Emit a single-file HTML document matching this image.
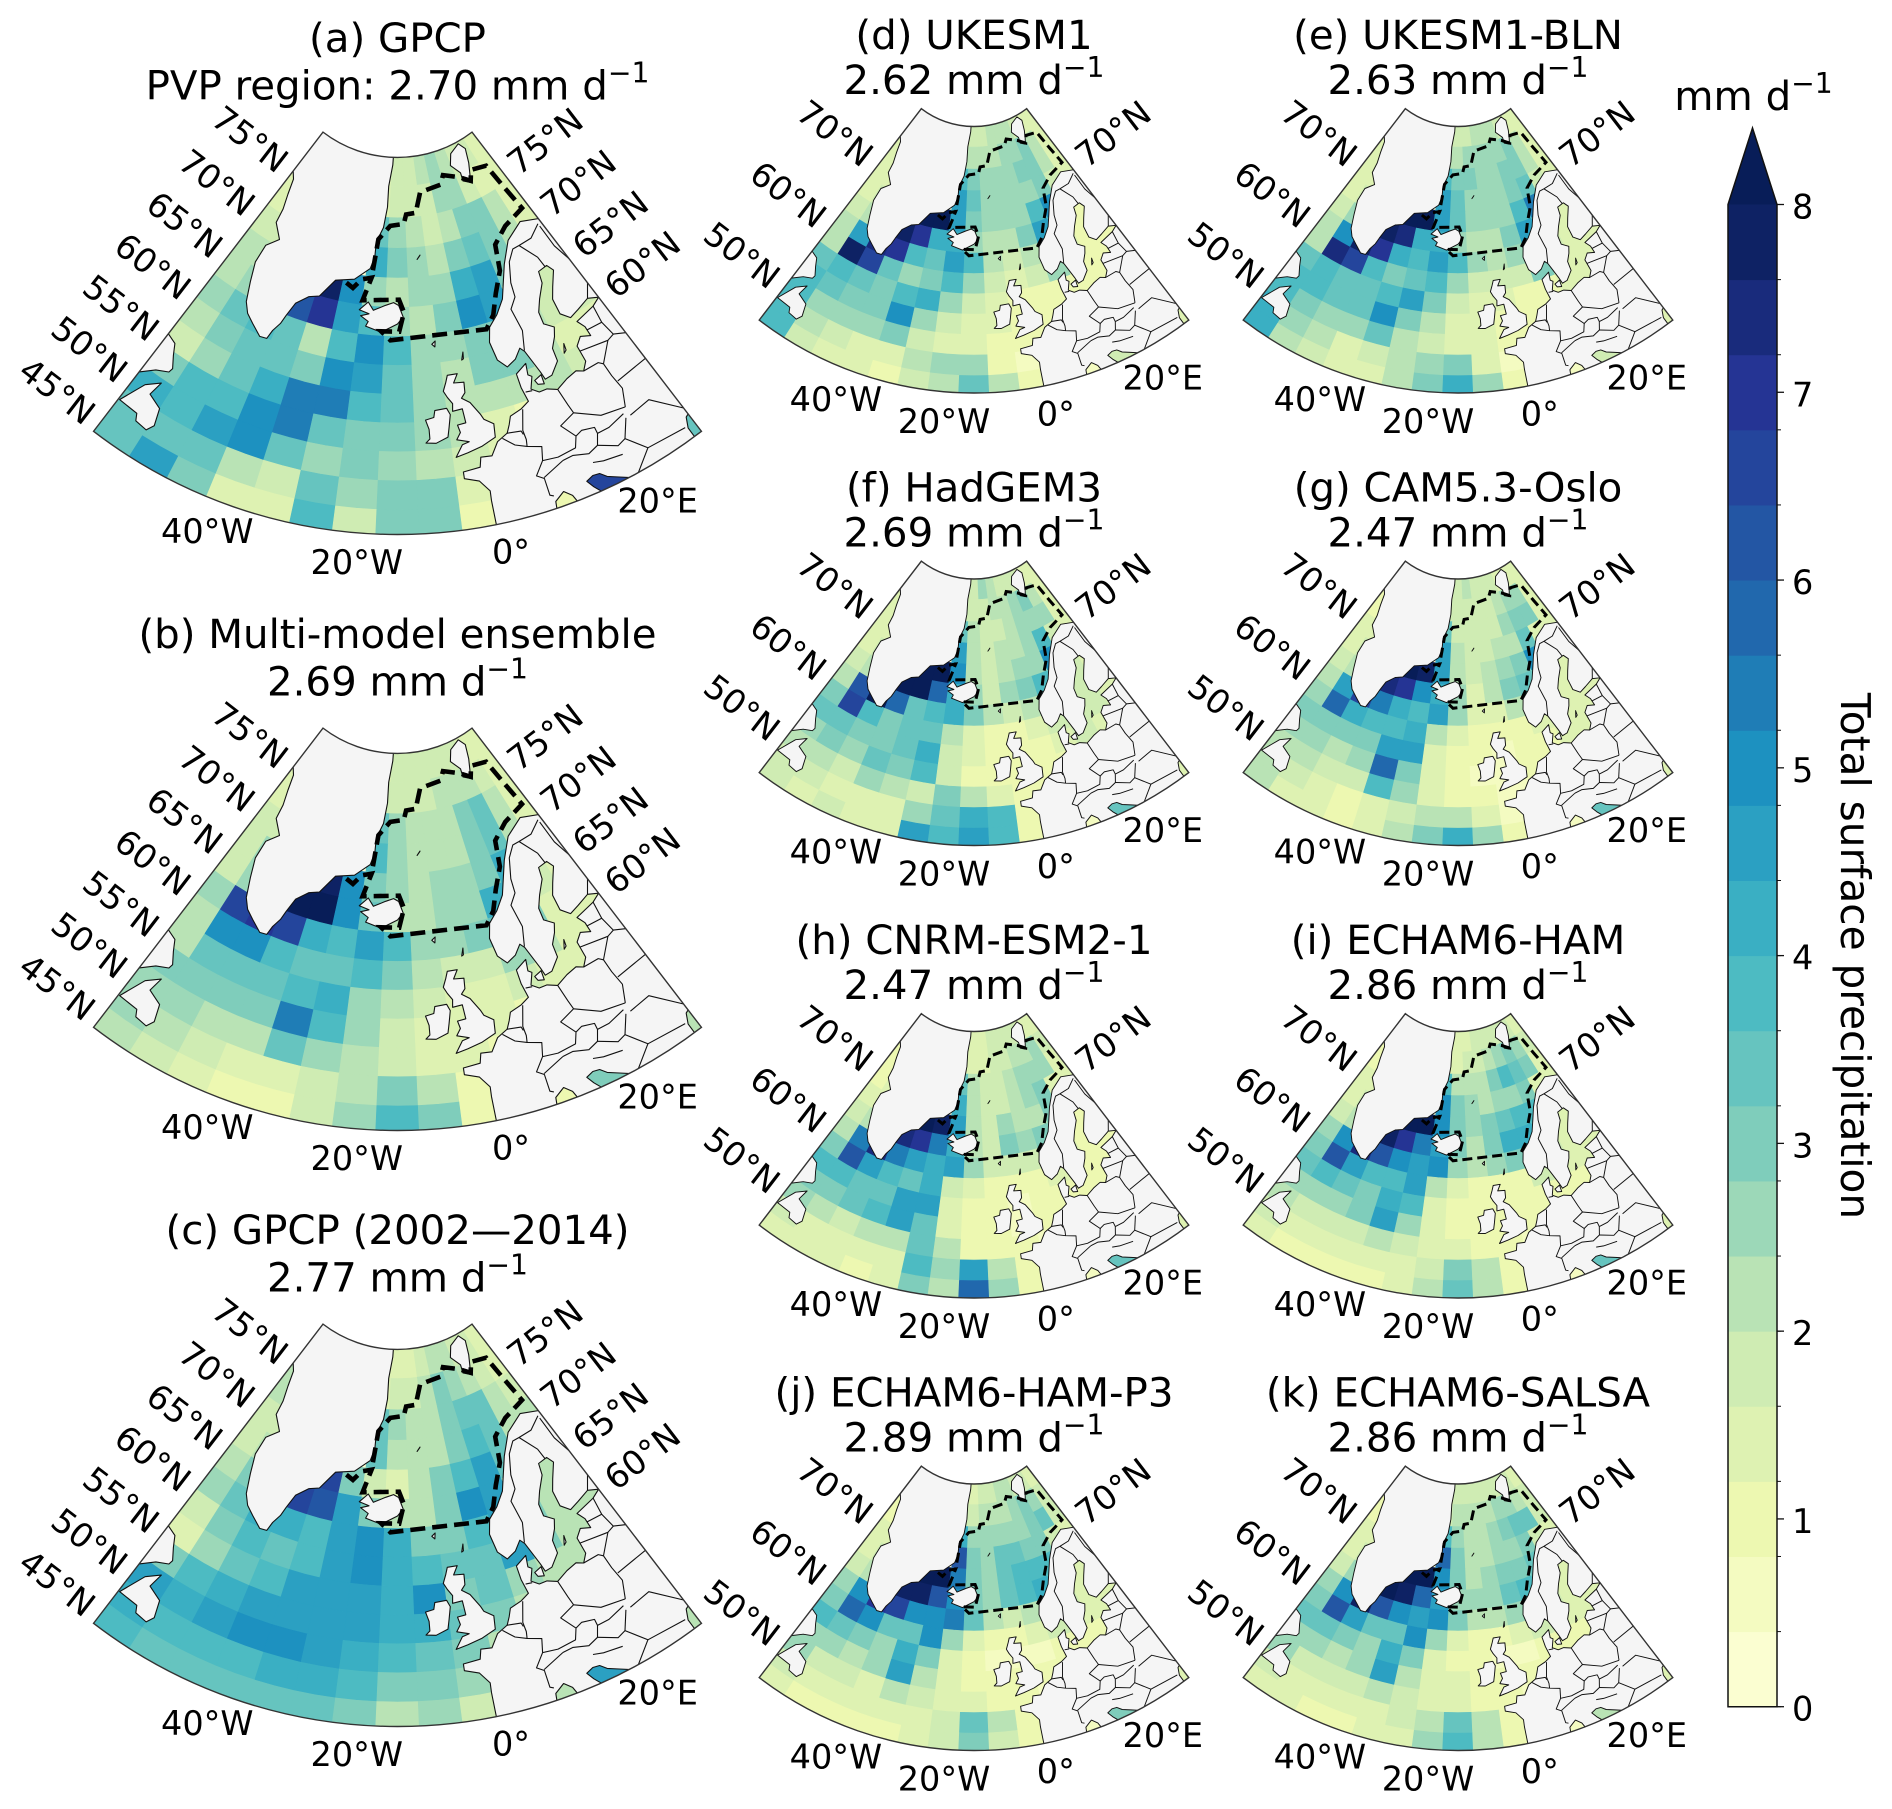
<!DOCTYPE html>
<html lang="en">
<head>
<meta charset="utf-8">
<title>Total surface precipitation maps</title>
<style>
html,body{margin:0;padding:0;background:#fff}
svg{display:block}
text{font-family:"DejaVu Sans","Liberation Sans",sans-serif;fill:#000}
</style>
</head>
<body>
<svg id="figure" xmlns="http://www.w3.org/2000/svg" width="1892" height="1809" viewBox="0 0 1892 1809"></svg>
<script>
const panelTitles=['(a) GPCP','(b) Multi-model ensemble','(c) GPCP (2002—2014)','(d) UKESM1','(e) UKESM1-BLN','(f) HadGEM3','(g) CAM5.3-Oslo','(h) CNRM-ESM2-1','(i) ECHAM6-HAM','(j) ECHAM6-HAM-P3','(k) ECHAM6-SALSA'];
const panelMeans=['PVP region: 2.70','2.69','2.77','2.62','2.63','2.69','2.47','2.47','2.86','2.89','2.86'];
const gridLatEdges=[81,78,75,72,69,66,63,60,57,54,51,48,45,42];
const gridLonEdges=[-60,-54,-48,-42,-36,-30,-24,-18,-12,-6,0,6,12,18,24,30];
const latTicksBigLeft=[75,70,65,60,55,50,45];
const latTicksBigRight=[75,70,65,60];
const latTicksSmallLeft=[70,60,50];
const latTicksSmallRight=[70];
const lonTicks=[-40,-20,0,20];
const colorbarTicks=[0,1,2,3,4,5,6,7,8];
const colorAnchors=['#ffffd9','#edf8b1','#c7e9b4','#7fcdbb','#41b6c4','#1d91c0','#225ea8','#253494','#081d58'];

const valuesA=[
[0,0,0,0,0,0,1.2,1.6,1.8,2,2.4,2.2,1.8,1.6,1.4],
[1.4,0,0,0,0,0,1.4,1.6,1.6,1.6,2.4,2.4,1.6,1.4,1.4],
[1.4,1.4,0,0,0,0,3.4,2.6,2.2,1.8,2.2,3,3,2.2,1.4],
[1.6,1.6,0,0,0,0,4,3,2.4,2,2.8,3.2,3,2,1.4],
[2,2,0,0,7.6,4.8,2.6,2,2.4,2.4,4,4.4,3,1.6,1.6],
[2,2.4,0,6,7,4.4,3.6,2.4,2.2,3,4.8,4.4,2,1.6,1.6],
[2.4,3.4,3.6,3.2,2.2,3.6,5,3.6,2.4,2.6,3,3,2,1.6,1.6],
[2.2,2.8,3.2,3.2,3,5,4.6,3.4,2.4,2,2.8,3,2,1.4,1.4],
[1.8,2.6,3.2,4,5.2,5.2,3.8,3.2,2.6,2,2,2,2,1.6,1.6],
[3,3.6,3.8,5,5.2,3.4,3,2.8,2.4,2,1.4,1,1,1,1],
[4.2,3.8,4.4,5,3.4,2.6,3,2.6,2,1.6,1.2,1,1,1,1],
[3.4,3.4,3.2,2,1.8,3.2,2.4,3,2.8,1.4,1,1,1,1,1],
[3.4,4.4,3,1.5,1.4,3.6,1.8,2.8,3,1,1,1,6.5,1,3.2]];
const valuesB=[
[0,0,0,0,0,0,1.4,1.6,1.6,1.6,1.8,1.6,1.6,1.4,1.4],
[1.2,0,0,0,0,0,1.6,1.6,1.8,1.8,2,2.2,2,1.8,1.4],
[1.2,1.2,0,0,0,0,3.2,2.4,2,2,2.2,3,3.2,2,1.4],
[1.6,1.6,0,0,0,0,3.8,2.4,2,2,2.2,2.8,3.4,2,1.4],
[1.8,2.4,0,0,7.6,5,3,2.4,2.2,2.4,2.4,2.8,4,1.6,1.4],
[1.6,2.6,5,8,8,5,3.4,2.2,2,2.4,2.6,4.2,4,1.6,1.4],
[2.4,6.5,7,6.4,4,3.6,4.4,3.8,2.6,2.4,2.8,3.2,3,1.4,1.4],
[2.2,5,5,3.6,3.2,3.4,3.6,3,2.2,1.6,1.8,2.6,2,1.2,1.2],
[2.2,3.4,3.4,3.2,3.8,4.2,2.6,2.2,1.8,1.4,1.4,1.6,1.4,1.4,1.4],
[3,3,2.8,3,5.2,3.6,2.6,1.8,1.4,1.2,1.2,1,1,1,1],
[2.4,2.4,2.2,2.2,3.2,2.6,2,1.6,1.4,1.2,1,1,1,1,1],
[2.4,2,1.6,1.4,1.2,1.6,2,3,2,.8,.6,1,1,1,1],
[2,1.6,1.2,1,.8,1.8,2.4,3.6,2.8,.8,.6,1,2.8,1,2]];
const valuesC=[
[0,0,0,0,0,0,1.2,1.2,1.4,1.6,2,2,1.8,1.6,1.4],
[2,0,0,0,0,0,1.4,1.6,1.8,2,2.8,2.6,2,1.6,1.4],
[2,2,0,0,0,0,3.4,2.4,2.2,2.2,3,3.4,3.4,2.2,1.6],
[1.6,1.6,0,0,0,0,3.4,2.2,2,2.2,3,3.8,3.2,2,2],
[1.6,2,0,0,6.5,3,1.8,1.4,2,2.8,3.6,4.4,3.4,2,2],
[2.2,2.8,0,6.5,6.2,4.4,3,2,2,3,5,4.6,2,2,2],
[2.4,3.2,4,4,3.8,4.4,5,4,3,3,3.6,4.4,3,2,2],
[1.6,3,3.6,3.4,3.8,4.6,4.8,4.2,3.6,3.4,3.4,4.6,3,2,2],
[1.4,2.4,3.4,3.8,4.4,4.6,4.6,4.2,5,3,3.4,2.6,2,2,2],
[3,3.6,4.2,4.6,4.6,4.6,4.4,4.2,4,3.4,2.8,2,2,2,2],
[4.4,4,4.4,4.8,4.8,4.6,4.2,3.6,3.4,3,2,2,2,2,2],
[4.2,3.8,3.6,3.8,4.2,4,3.8,3,2.8,2.4,2,2,2,2,2],
[3.6,3.4,3.4,3.4,3.4,3.2,2.8,2.2,2.4,1.8,2,2,4.6,2,2.2]];
const valuesD=[
[0,0,0,0,0,0,1.4,1.6,1.8,2,2,2,1.6,1.4,1.4],
[1.2,0,0,0,0,0,2,2.2,2.2,2.2,2.4,2.6,2.8,2.2,1.4],
[1.2,1.2,0,0,0,0,3.6,3,2.6,2.4,2.4,2.8,3,2,1.4],
[1.2,1.4,0,0,0,0,4.6,3.2,2.6,2.6,2.4,2.4,3,1.6,1.2],
[1.4,1.6,0,0,8,8,4.4,3,2.4,2.4,2.4,3.6,5,1,1],
[1.6,2.2,0,7.6,7,4,4,2.4,2.2,2.2,2.8,4.4,3,1,1],
[2,4.6,7.4,7,3.6,3.4,4.4,3.6,2.2,1.8,2.2,3.8,1.4,1,1],
[2.2,7.6,6.6,3.2,2.4,2.8,3.6,2.4,1.6,1.4,1.8,2.6,1,1,1],
[3.4,3.8,3.2,3,3.8,4.2,2.6,1.6,1.2,1,.8,.8,1,1,1],
[3.6,3.4,2.8,3,4.8,2.6,1.8,1.4,1.2,1,.8,.8,.8,1,1],
[3.6,2.6,2.4,2.4,3,1.8,1.4,1.2,1,.8,.8,.8,.8,.8,.8],
[3.8,2.2,1.6,1.2,1.4,2,2.4,2.4,1,.6,.6,.6,.6,.6,.6],
[3.6,1.8,1.4,1.2,1,1.8,2.2,3.2,2.2,.8,.6,.6,1.6,.6,1.2]];
const valuesE=[
[0,0,0,0,0,0,1.4,1.6,1.8,2,2,2,1.6,1.4,1.4],
[1.2,0,0,0,0,0,2,2.2,2.4,2.4,2.4,2.6,2.8,2.2,1.4],
[1.2,1.2,0,0,0,0,3.6,3,2.8,2.4,2.6,2.8,3,2,1.4],
[1.2,1.4,0,0,0,0,4.6,3.4,2.6,2.4,2.4,2.8,3.2,1.6,1.2],
[1.4,1.6,0,0,8,8,4.6,3.2,2.4,2.4,2.4,3.8,5.4,1.2,1],
[1.6,2.4,0,7.8,7.4,4.2,4.2,2.6,2.2,2.2,2.8,4.6,3,1.4,1.2],
[2,4.8,7.6,7,4,3.6,4.4,3.8,2.4,2,2.4,3.8,1.6,1.4,1.2],
[2.2,7.4,6.4,3.6,3,3.2,3.8,2.6,1.8,1.6,1.8,2.8,1.4,1.2,1.2],
[3.4,3.8,3.4,3.4,3.8,4.4,2.8,1.8,1.4,1.2,1,1,1.2,1.2,1.2],
[3.6,3.6,3.2,3.4,5,3,2,1.4,1.2,1,1,1,1,1,1],
[3.8,3,2.6,2.6,3.4,2,1.6,1.4,1.2,.8,.8,.8,.8,.8,.8],
[4,2.6,2,1.4,1.6,2.2,2.6,2.8,1.2,.6,.6,.6,.6,.6,.6],
[4.2,2.2,1.6,1.2,1.2,2,2.8,4,2.4,.8,.6,.6,1.6,.6,1.2]];
const valuesF=[
[0,0,0,0,0,0,1.4,1.8,2.4,2,1.8,1.8,1.6,1.4,1.4],
[1.2,0,0,0,0,0,1.6,1.8,1.8,2,2.2,2.4,2.8,2.2,1.4],
[1.2,1.2,0,0,0,0,3.4,2,1.8,1.8,2,2.4,2.6,2.4,1.4],
[1.2,1.4,0,0,0,0,4.6,2.2,1.8,2,2.2,2.4,3.6,1.6,1.2],
[1.4,1.6,0,0,8,8,5,2,1.6,2,2.4,2.6,5,1.2,1.2],
[1.6,2.2,0,8,8,5.6,4,2.4,1.6,2.4,3,3.6,3,1.8,1.4],
[2,6,8,5.8,3.2,3.6,4,3,2,1.8,2,2.6,1.8,1.8,1.4],
[3,6.6,3.6,3,3.2,3.4,2.2,1.4,1,1,1.2,1.8,1.8,1.8,1.4],
[3.4,3.4,2.8,2.8,3.2,4,1.8,1.4,1,.8,1,1.4,1.6,1.4,1.4],
[2.6,2.8,2.6,3.2,3,3.6,1.6,1,1,.8,.8,1,1,1,1],
[2.2,2,1.8,2.4,2,1.8,2.8,2.2,1.2,.8,.8,.8,.8,.8,.8],
[1.8,1.6,1.4,1.4,1.4,2.4,3.2,4,3.6,.8,.6,.6,.6,.6,.6],
[1.6,1.4,1.6,1.4,1.4,4.6,3.6,4.4,3.6,1,.6,.6,3.2,.6,1.2]];
const valuesG=[
[0,0,0,0,0,0,1.4,1.6,2.2,1.8,1.6,1.6,1.4,1.4,1.4],
[1,0,0,0,0,0,1.6,1.6,1.6,1.6,1.8,2,2.6,2.4,1.4],
[1,1,0,0,0,0,3.2,1.8,1.6,1.6,1.8,2.4,3,3,1.2],
[1.2,1.2,0,0,0,0,4.6,2.2,1.8,1.8,2,2.2,3.2,1.4,1.2],
[1.4,1.6,0,0,8,7.6,4.4,2,1.6,2,2.4,2.8,5,1.2,1],
[1.6,2,0,7.4,7,5,4,2.4,1.4,2,3,3.4,3,1.4,1.2],
[2,4.4,6.6,5.4,4,3.8,4.4,2.6,1.4,1.4,2,3,1.4,1.4,1.2],
[2.6,5.6,4,3.6,3.8,4.2,2,1.2,.8,.8,1,1.4,1.2,1.4,1.2],
[3,3,3,3,4.4,4.4,1.4,1,.8,.6,.8,1,1.2,1.2,1.2],
[2.4,2.4,2.2,2.6,5.8,3,1.2,.8,.6,.6,.8,.8,1,1,1],
[2.2,2,1.8,1.8,3.6,2.6,1.2,1,.8,.6,.6,.8,.8,.8,.8],
[2.2,1.6,1.2,1,1.2,1.6,2,2.2,1.2,.6,.6,.6,.6,.6,.6],
[2.2,1.4,1.2,1,1.2,2.2,3,4.2,2.6,.8,.6,.6,3.4,.6,1.2]];
const valuesH=[
[0,0,0,0,0,0,1.2,1.2,1.4,1.6,1.8,1.8,1.6,1.4,1.4],
[1,0,0,0,0,0,1.4,1.4,1.4,1.6,1.8,2,2.2,2.4,1.6],
[1,1,0,0,0,0,3.2,2,1.8,1.8,2.2,2.4,2.4,2.6,1.2],
[1,1.2,0,0,0,0,4,2,1.8,1.8,2,2.4,3,1.4,1.2],
[1.2,1.4,0,0,8,7.6,4.6,2,1.8,2.6,2,2.2,3,1,1],
[1.6,2,0,7.4,7,5.4,4,2,1.6,2.8,2.6,2.8,2.6,1,1],
[2.2,5.2,7.2,5.4,4.4,4,4.6,2.6,1.8,1.6,1.8,2.4,1.2,1,1],
[3,6,4.4,3.6,3.4,4.2,1.8,1.2,.8,.8,1,1.4,1,1,1],
[3.6,3.6,3.2,3.2,4.4,4.4,1.2,1,.8,.6,.8,.8,1,1,1],
[3,3,3.2,3.8,4.4,3.4,1.2,1,.8,.6,.8,.8,.8,.8,.8],
[2.4,2,1.8,2.2,2,3.4,2,1,.8,.8,.6,.8,.8,.8,.8],
[1.6,1.4,1.2,1.2,1.2,3.6,2.6,4.4,2.2,.8,.6,.6,.6,.6,.6],
[1.2,1.2,1.2,1,1.2,3,2.2,5.6,2.6,.8,.6,.6,3.4,.6,1.2]];
const valuesI=[
[0,0,0,0,0,0,1.2,1.2,1.4,1.6,1.8,1.8,1.8,1.6,1.4],
[1,0,0,0,0,0,1.4,1.4,1.6,1.8,2,2.4,2.8,2.4,1.6],
[1,1,0,0,0,0,3.6,2.2,2,2,3,3.6,3.2,3,1.2],
[1.2,1.2,0,0,0,0,5,2.8,2.4,2.2,2.6,2.4,3,1.4,1.2],
[1.4,1.6,0,0,8,8,4.8,3,2.4,3,3.4,3.6,3.8,1.2,1],
[1.8,2.2,0,7.6,7,5.4,4.6,2.8,2,3,4,4.2,3,1.4,1.2],
[2.4,5,7.4,6,4.8,4.4,5,2.6,2,2.4,3,4.2,1.6,1.4,1.2],
[3,6,4.6,3.6,3.6,4.6,2.2,1.4,1,1,1,1.6,1.2,1.2,1.2],
[3.4,3.6,3.2,3,4,3.8,1.4,1,.8,.8,.8,1,1,1,1],
[2.6,2.6,2.4,3,4.4,2.6,1.2,1,.8,.8,.8,.8,.8,.8,.8],
[2.2,1.8,1.6,1.6,2.2,1.6,1.2,1.2,.8,.8,.6,.8,.8,.8,.8],
[1.6,1.2,1.2,1.2,1.2,1.4,1.6,2.8,2,.8,.6,.6,.6,.6,.6],
[1.2,1,1,1,1,1.2,2,3.4,2.2,1,.6,.6,3.2,.6,1.2]];
const valuesJ=[
[0,0,0,0,0,0,1.4,1.4,1.6,1.8,2,2,1.8,1.6,1.4],
[1,0,0,0,0,0,1.6,1.8,2,2,2.2,2.4,2.8,2.4,1.8],
[1,1,0,0,0,0,4,2.6,2.4,2.4,2.4,2.6,3,3.4,1.6],
[1.2,1.2,0,0,0,0,6,3,2.6,3.4,3.2,2.8,3,1.6,1.2],
[1.4,1.6,0,0,8,8,5.2,3,2.6,3.2,3.6,3.8,3.6,1.2,1],
[1.8,2.2,0,7.6,7.6,6,5,3,2.6,3.4,3.8,4,3,1.4,1.2],
[2.4,4.8,7,6.4,5,4.8,5.2,3.2,2,1.8,2.2,3.6,1.6,1.4,1.2],
[2.8,5.6,4.8,3.2,3.4,4.8,2.4,1.4,.8,.8,1.2,1.6,1.2,1.2,1.2],
[3.6,3.2,2.8,2.6,4,2.8,1.2,.8,.6,.6,.6,.8,1,1,1],
[2.6,2.6,2,2.6,4.4,2,1.2,1,.8,.8,.8,.8,.8,.8,.8],
[2.4,1.8,1.6,1.4,2,1.6,1.2,1.2,1,.8,.6,.8,.8,.8,.8],
[1.6,1.4,1.2,1.2,1.2,1.4,1.8,3.2,2,.8,.6,.6,.6,.6,.6],
[1.2,1,1,1,1,1.2,1.8,3,1.6,1,.6,.6,3,.6,1.2]];
const valuesK=[
[0,0,0,0,0,0,1.4,1.6,1.6,1.8,1.8,1.8,1.8,1.6,1.4],
[1,0,0,0,0,0,1.8,2,2,2,2.2,2.4,2.6,2.2,1.6],
[1,1,0,0,0,0,3.6,2.4,2.2,2.2,2.4,2.8,3.2,3.2,1.6],
[1.2,1.2,0,0,0,0,5.6,2.8,2.2,2.2,2.4,2.4,2.8,1.6,1.2],
[1.4,1.6,0,0,8,8,4.8,3,2.2,2.4,3,3,3.2,1.2,1],
[1.8,2.4,0,8,7.6,5.6,4.6,2.6,2.4,2.6,3.4,3.8,3,1.4,1.2],
[2.4,5,7.6,6,5,4.6,5,3,2,2,2.6,3.6,1.6,1.4,1.2],
[2.8,6,4.6,3.4,3.4,4.8,2.4,1.4,1,1,1.2,1.8,1.2,1.2,1.2],
[3.4,3.4,2.8,2.6,4.2,3,1.2,1,.8,.6,.6,.8,1,1,1],
[2.6,2.6,2.2,2.6,4.4,2.2,1.4,1.2,.8,.8,.8,.8,.8,.8,.8],
[2.4,1.8,1.6,1.6,2.2,1.8,1.4,1.2,1,.8,.6,.8,.8,.8,.8],
[1.6,1.4,1.2,1.2,1.4,1.6,2,3.4,2.2,.8,.6,.6,.6,.6,.6],
[1.4,1.2,1,1,1.2,1.4,2.4,3.6,2,1,.6,.6,2.2,.6,1.2]];
const panelValues=[valuesA,valuesB,valuesC,valuesD,valuesE,valuesF,valuesG,valuesH,valuesI,valuesJ,valuesK];

/* geography as lon,lat */
const greenland=[[-62,76.6],[-60,76.1],[-58,75.5],[-56.5,74],[-55,72.5],[-54.5,71],[-51,69.7],[-53.5,68.5],[-53.5,66.5],[-52,64.5],[-50.5,62.5],[-49,61.5],[-47,60.8],[-44.5,59.9],[-43,60],[-42.5,61],[-41.5,62],[-41,63],[-40,64.5],[-37.5,65.6],[-35,66],[-32,68],[-27,68.5],[-23,69.8],[-22,71],[-22,72.5],[-20,74],[-19,76],[-19,78],[-17.5,80],[-17,82],[-62,82]];
const iceland=[[-24.5,65.5],[-22.5,66.4],[-21,65.6],[-18,66.2],[-16,66.5],[-14.7,66.2],[-13.6,65],[-15,64.3],[-18.8,63.4],[-22.5,63.9],[-22,64.4],[-24,64.9],[-22,65.2]];
const svalbard=[[14,77.2],[14.5,78],[11.5,79],[14,80],[20,80.5],[22,79.8],[20,78.5],[18,77.5],[16.5,76.8]];
const britain=[[-5,58.6],[-3,58.6],[-4,57.7],[-2,57.6],[-2.2,56.5],[-3,56],[-1.6,55.4],[-0.2,54],[0.2,53.4],[1.7,52.7],[1.4,51.3],[-1,50.7],[-3.5,50.3],[-5.5,50],[-4.2,51.2],[-3,51.4],[-5,51.8],[-4.2,52.5],[-4.5,53.3],[-3,53.4],[-3.2,54.9],[-5,54.8],[-4.8,55.6],[-5.6,56.3],[-6.2,57],[-5.5,57.9]];
const ireland=[[-6,55.2],[-8.2,55.1],[-8.5,54.4],[-10,54.2],[-9.5,53.2],[-9.5,52.2],[-10.2,51.8],[-8.5,51.7],[-6.4,52.2],[-6,53.2],[-5.5,54.5]];
const newfoundland=[[-59.8,46.7],[-58,49.5],[-56,50.6],[-56.5,49],[-54,48.3],[-53.3,46.5],[-54,45.7],[-56,45.9],[-56.5,46.6]];
const labrador=[[-60,55.2],[-58,54.8],[-57,53.7],[-55.8,52.5],[-56,52],[-58,51.4],[-60,50.2],[-63,50],[-63,56]];
const zealand=[[11,55.7],[12.5,56],[12.4,55],[11.3,55.2]];
const gotland=[[18.2,57],[19,57.9],[18.8,57.2]];
const janMayen=[[-9,70.8],[-8,71.2],[-8.2,71.1]];
const faroe=[[-7.4,62],[-6.6,62.3],[-6.8,61.7]];
const shetland=[[-1.6,59.9],[-1,60.7],[-1.2,60]];
const eurasia=[[-1.3,41],[-1.3,45],[-1.2,46],[-2.5,47.2],[-4.7,47.7],[-4.7,48.4],[-2,48.6],[-1.6,49.6],[0.2,49.5],[1.6,50.8],[3.5,51.4],[4.2,52.2],[4.8,53],[7,53.4],[8.6,53.9],[8.2,55.5],[8.2,57],[10.6,57.7],[10.2,56.5],[10.8,56.2],[9.8,55],[11,54.4],[12.5,54.4],[14.2,53.9],[16.5,54.5],[18.6,54.8],[19.8,54.4],[21,55.2],[21,57],[22.5,57.7],[24.3,57.2],[24.3,58.3],[23.5,59.2],[28,59.6],[30,60],[28,60.6],[25,60.2],[22.8,59.9],[21.3,60.8],[21.5,62.5],[23,63.6],[25.3,65],[24.5,65.8],[22,65.7],[21.3,64.5],[19,63.2],[17.4,62],[17.2,60.7],[18.9,59.9],[18,59],[16.6,58],[16.4,56.6],[14.3,55.5],[12.9,55.4],[12.6,56.3],[11.3,58.9],[10.6,59.4],[9,58.5],[7,58],[5.5,59],[5,61],[6,62.5],[8.5,63.5],[11,64.8],[13,66.5],[15,68],[19,70],[25,71],[31,70],[40,66],[60,60],[60,40],[31,40],[31,45],[29.5,44.6],[28.8,43.6],[28.8,41],[19.5,41],[19.3,42],[17,43],[15.5,43.6],[14.7,44.2],[13.7,44.3],[12.6,44],[13.2,43.2],[14,42.4],[15.5,41.9],[15.5,41],[11,41],[10,43.2],[9,43.9],[7.5,43.2],[7,41]];
const landShapes=[greenland,iceland,svalbard,britain,ireland,newfoundland,labrador,zealand,gotland,janMayen,faroe,shetland,eurasia];
const borders=[
[[11.3,59],[12.5,61],[12,63.5],[14,64.5],[14.5,66],[16.5,68],[19,69],[21,69],[25,69],[29,69.8]],
[[24,65.8],[23.7,67],[21,69]],
[[28,60.6],[31,62.5],[30,65],[29,67],[29,69.5]],
[[2.5,51],[4.2,50],[6,49.5],[8.2,49],[7.6,47.6],[6,46.3],[7,45.8],[7,44],[7.5,43.8]],
[[3.4,51.4],[5.8,51.2],[6,50.8]],
[[7.2,53.3],[6.1,51.2],[6.2,50.2],[6,49.5]],
[[8.7,54.9],[9.9,54.8]],
[[14.2,53.9],[14.7,52],[15,51]],
[[15,51],[12.2,50.3],[13.8,48.7]],
[[13.8,48.7],[13,47.6],[10,47.4],[7.6,47.6]],
[[15,51],[18.8,49.5],[22.8,49]],
[[22.8,49],[24,50.8],[23.6,52.5],[23.5,54]],
[[23.5,54],[22.8,54.4],[19.8,54.4]],
[[13.8,48.7],[15,49],[17,48.7],[17,48]],
[[17,48],[16.2,46.9],[14.5,46.5],[12.2,47],[10.5,46.9]],
[[7,45.9],[10.5,46.9]],
[[17,48],[19,48],[22,48.5]],
[[22,48],[20.3,46.2]],
[[22.8,48],[26.5,48.3],[30,45.5]],
[[16.2,46.9],[18.9,45.9],[20.3,46.2],[22.5,44.2],[28.5,43.8]],
[[19.3,42.3],[22.5,44.2]],
[[14.5,45.5],[16,45.2],[18.9,44.9]],
[[24,51.7],[32,52]],
[[21,56.4],[26.5,55.8],[28,56]],
[[24.3,57.9],[27.5,57.7]],
[[23.5,54],[26.5,55.8]],
[[28,59.6],[27.5,57.7],[28,56],[31,55],[32,52]]];
const pvpBoundary=[[-29,68],[-27,67.6],[-25,68.6],[-22.3,68.9],[-24,66.5],[-14.6,66.8],[-13.4,65.5],[-14.6,63.5],[-18.8,63.5],[-16.6,62.6],[5.2,62.4],[7.7,63.6],[10,65.6],[13.2,67.6],[15,70.2],[20.3,71.4],[27.9,72],[27,74.7],[26,77.4],[19.3,77.8],[17,76.9],[13,77.7],[6.6,78.4],[4.2,77.6],[-5.2,77.3],[-8,75.4],[-11.7,75.3],[-12.7,74.4],[-17.6,74.2],[-21.4,72.8],[-22.3,68.9]];

const SVG_NS='http://www.w3.org/2000/svg';
const fig=document.getElementById('figure');
const CONE=0.833, LON0=-15, LAT_BOTTOM=42.5, LAT_TOP=80.7, DEG=Math.PI/180;
const FONT_TITLE=40.3, FONT_TICK=33.5;

function rho(lat){
  return Math.pow(Math.tan((45-lat/2)*DEG)/Math.tan((45-LAT_BOTTOM/2)*DEG),CONE);
}
function project(p,lon,lat){
  const t=(lon-LON0)*CONE*DEG, r=p.R*rho(lat);
  return [p.cx+r*Math.sin(t), p.y0+r*Math.cos(t)];
}
function node(tag,parent,attrs){
  const el=document.createElementNS(SVG_NS,tag);
  for(const k in attrs) el.setAttribute(k,attrs[k]);
  parent.appendChild(el);
  return el;
}
function lonLatPath(p,pts,close){
  let d='';
  pts.forEach((q,i)=>{const s=project(p,q[0],q[1]);d+=(i?'L':'M')+s[0].toFixed(1)+' '+s[1].toFixed(1);});
  return d+(close?'Z':'');
}
function hexRgb(h){return [1,3,5].map(i=>parseInt(h.substr(i,2),16));}
function cmap(t){
  const f=Math.min(t,0.99999)*(colorAnchors.length-1), i=Math.floor(f), u=f-i;
  const a=hexRgb(colorAnchors[i]), b=hexRgb(colorAnchors[i+1]);
  return 'rgb('+a.map((c,k)=>Math.round(c+(b[k]-c)*u)).join(',')+')';
}
function colorFor(v){
  if(v>=8) return colorAnchors[8];
  const lev=Math.min(Math.floor(v/0.4+1e-6),19);
  return cmap((lev+0.5)/20);
}
function latLabel(v){return v+'°N';}
function lonLabel(v){return v===0?'0°':Math.abs(v)+'°'+(v<0?'W':'E');}
function placeTick(g,str,x,y,rot,name){
  const t=node('text',g,{x:x.toFixed(1),y:(y+FONT_TICK*0.36).toFixed(1),'text-anchor':'middle','font-size':FONT_TICK});
  if(rot) t.setAttribute('transform','rotate('+rot+' '+x.toFixed(1)+' '+y.toFixed(1)+')');
  
  
  t.textContent=str;
}
function titleLine(g,cx,y,str,withUnit,name){
  const t=node('text',g,{x:cx,y:y,'text-anchor':'middle','font-size':FONT_TITLE});
  
  
  t.textContent=str;
  if(withUnit){
    const s=node('tspan',t,{'font-size':FONT_TITLE*0.7,dy:-FONT_TITLE*0.42});
    s.textContent='−1';
  }
}
function drawPanel(i,p,leftTicks,rightTicks,titleY1,titleY2,lineW){
  const g=node('g',fig,{});
  
  
  titleLine(g,p.cx,titleY1,panelTitles[i],false,'panel-title');
  titleLine(g,p.cx,titleY2,panelMeans[i]+' mm d',true,'panel-mean-value');

  const rT=p.R*rho(LAT_TOP), A=LON0+45, B=LON0-45;
  const tl=project(p,B,LAT_TOP), tr=project(p,A,LAT_TOP), br=project(p,A,LAT_BOTTOM), bl=project(p,B,LAT_BOTTOM);
  const sector='M'+tl[0]+' '+tl[1]+'A'+rT+' '+rT+' 0 0 0 '+tr[0]+' '+tr[1]+'L'+br[0]+' '+br[1]+'A'+p.R+' '+p.R+' 0 0 1 '+bl[0]+' '+bl[1]+'Z';
  const clip=node('clipPath',g,{id:'clip'+i});
  node('path',clip,{d:sector});
  const map=node('g',g,{'clip-path':'url(#clip'+i+')'});

  const values=panelValues[i];
  values.forEach((row,ri)=>{
    row.forEach((v,ci)=>{
      const lon1=gridLonEdges[ci], lon2=gridLonEdges[ci+1], lat1=gridLatEdges[ri], lat2=gridLatEdges[ri+1], lonM=(lon1+lon2)/2;
      const col=colorFor(v);
      const cell=node('path',map,{d:lonLatPath(p,[[lon1,lat1],[lonM,lat1],[lon2,lat1],[lon2,lat2],[lonM,lat2],[lon1,lat2]],true),fill:col,stroke:col,'stroke-width':0.6});
      
      
    });
  });
  landShapes.forEach(shape=>{
    const land=node('path',map,{d:lonLatPath(p,shape,true),fill:'#f5f5f5',stroke:'#111','stroke-width':lineW,'stroke-linejoin':'round'});
    
    
  });
  borders.forEach(line=>{
    const b=node('path',map,{d:lonLatPath(p,line,false),fill:'none',stroke:'#111','stroke-width':lineW,'stroke-linejoin':'round'});
    
    
  });
  const big=p.R>400;
  const pvp=node('path',map,{d:lonLatPath(p,pvpBoundary,false),fill:'none',stroke:'#000','stroke-width':big?4.6:3,'stroke-dasharray':big?'15 7':'10 5'});
  
  
  const frame=node('path',g,{d:sector,fill:'none',stroke:'#333','stroke-width':1.4});
  
  

  leftTicks.forEach(L=>{
    const s=project(p,B,L), u=75-L;
    placeTick(g,latLabel(L),s[0]-36-u*0.5,s[1]-41+u*0.67,37.5,'latitude-label-left');
  });
  rightTicks.forEach(L=>{
    const s=project(p,A,L), u=75-L;
    placeTick(g,latLabel(L),s[0]+36+u*0.5,s[1]-39+u*0.4,-37.5,'latitude-label-right');
  });
  lonTicks.forEach(v=>{
    const s=project(p,v,LAT_BOTTOM);
    placeTick(g,lonLabel(v),s[0]+5.4+0.53*v+0.002*v*v,s[1]+29,0,'longitude-label');
  });
}
/* big panels: left column */
for(let i=0;i<3;i++){
  drawPanel(i,{cx:397.5,y0:35+596*i,R:499.5},latTicksBigLeft,latTicksBigRight,52+596*i,99.5+596*i,1.1);
}
/* small panels: two columns, four rows */
for(let i=3;i<11;i++){
  const row=Math.floor((i-3)/2), col=(i-3)%2;
  drawPanel(i,{cx:col?1458:974,y0:40+452.5*row,R:353},latTicksSmallLeft,latTicksSmallRight,49+452.5*row,94+452.5*row,0.95);
}
/* colorbar */
(function(){
  const X0=1728,X1=1777,Y0=1706.7,Y8=204.5,TIP=128;
  const yOf=v=>Y0+(Y8-Y0)*v/8;
  const g=node('g',fig,{});
  
  
  for(let k=0;k<20;k++){
    const lo=k*0.4, hi=(k+1)*0.4;
    const r=node('rect',g,{x:X0,y:yOf(hi),width:X1-X0,height:yOf(lo)-yOf(hi)+0.5,fill:cmap((k+0.5)/20)});
    
    
  }
  const over=node('polygon',g,{points:X0+','+Y8+' '+X1+','+Y8+' '+((X0+X1)/2)+','+TIP,fill:colorAnchors[8]});
  
  
  const out=node('polygon',g,{points:X0+','+Y0+' '+X1+','+Y0+' '+X1+','+Y8+' '+((X0+X1)/2)+','+TIP+' '+X0+','+Y8,fill:'none',stroke:'#111','stroke-width':1.5});
  
  
  for(let k=0;k<=20;k++){
    const y=yOf(k*0.4);
    const mt=node('line',g,{x1:X1,x2:X1+4,y1:y,y2:y,stroke:'#111','stroke-width':1});
    
    
  }
  colorbarTicks.forEach(v=>{
    const y=yOf(v);
    const tk=node('line',g,{x1:X1,x2:X1+7,y1:y,y2:y,stroke:'#111','stroke-width':1.3});
    
    
    const t=node('text',g,{x:1792,y:y+14,'font-size':FONT_TICK});
    
    
    t.textContent=v;
  });
  titleLine(g,1753.5,110,'mm d',true,'colorbar-unit');
  const side=node('text',g,{x:0,y:0,'text-anchor':'middle','font-size':40.6,transform:'translate(1841 956) rotate(90)'});
  
  
  side.textContent='Total surface precipitation';
})();
</script>
</body>
</html>
